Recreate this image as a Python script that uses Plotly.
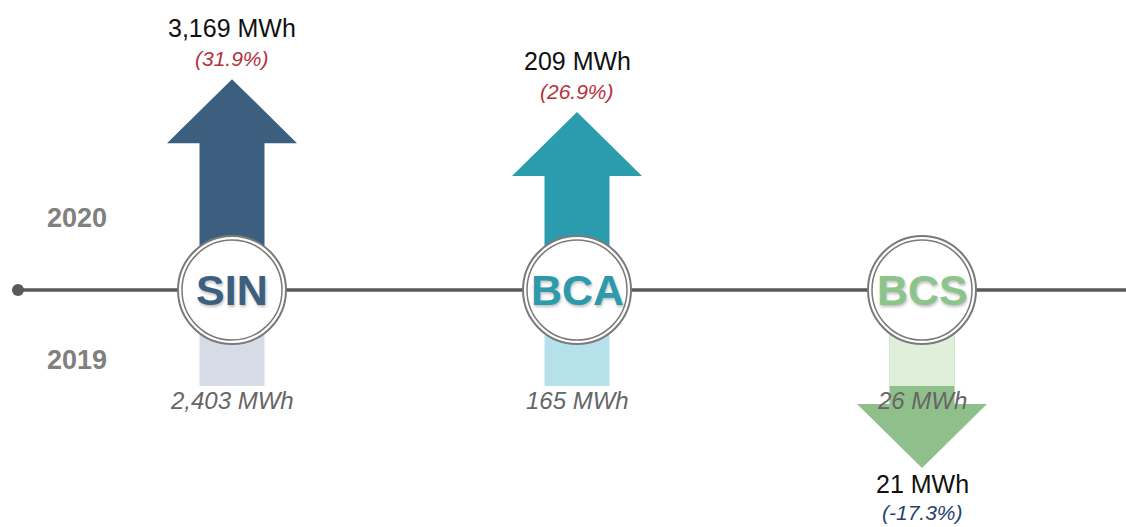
import plotly.graph_objects as go

# ---- data ----
regions = ["SIN", "BCA", "BCS"]
mwh_2019 = [2403, 165, 26]
mwh_2020 = [3169, 209, 21]
pct_change = [31.9, 26.9, -17.3]
year_labels = ["2020", "2019"]

# ---- styles ----
W, H = 1126, 527
dark_colors = ["#3c5f7f", "#2b9cad", "#8fc08c"]
light_colors = ["#d6dce5", "#b6e1ea", "#e0efd9"]
text_colors = ["#3c5f80", "#2b9bac", "#8cc48c"]
FONT = "Liberation Sans, Arial, sans-serif"
AXIS_Y = 290
X0, DX = 232, 345
R = 54
SHAFT_W, HEAD_W, HEAD_H = 65, 130, 64
K_LEN, MIN_LEN = 6.61, 178
BASE_LEN = 96

shapes = []
annotations = []

def fmt(v):
    return f"{v:,} MWh"

# timeline
shapes.append(dict(type="line", xref="x", yref="y", x0=18, x1=W, y0=AXIS_Y, y1=AXIS_Y,
                   line=dict(color="#595959", width=3.5), layer="below"))
shapes.append(dict(type="circle", xref="x", yref="y", x0=12, x1=24, y0=AXIS_Y - 6, y1=AXIS_Y + 6,
                   fillcolor="#595959", line=dict(width=0), layer="below"))

for i, reg in enumerate(regions):
    cx = X0 + i * DX
    up = pct_change[i] >= 0
    s = -1 if up else 1
    L = max(K_LEN * abs(pct_change[i]), MIN_LEN)
    tip = AXIS_Y + s * L
    hb = tip - s * HEAD_H
    hw, sw = HEAD_W / 2, SHAFT_W / 2
    path = (f"M {cx - sw},{AXIS_Y} L {cx - sw},{hb} L {cx - hw},{hb} L {cx},{tip} "
            f"L {cx + hw},{hb} L {cx + sw},{hb} L {cx + sw},{AXIS_Y} Z")
    shapes.append(dict(type="path", xref="x", yref="y", path=path,
                       fillcolor=dark_colors[i], line=dict(width=0), layer="above"))
    # 2019 base bar
    shapes.append(dict(type="rect", xref="x", yref="y", x0=cx - sw, x1=cx + sw,
                       y0=AXIS_Y, y1=AXIS_Y + BASE_LEN,
                       fillcolor=light_colors[i], line=dict(width=0), layer="above"))
    # circle (double ring)
    shapes.append(dict(type="circle", xref="x", yref="y", x0=cx - R, x1=cx + R,
                       y0=AXIS_Y - R, y1=AXIS_Y + R, fillcolor="white",
                       line=dict(color="#7a7a7a", width=2), layer="above"))
    shapes.append(dict(type="circle", xref="x", yref="y", x0=cx - R + 4, x1=cx + R - 4,
                       y0=AXIS_Y - R + 4, y1=AXIS_Y + R - 4, fillcolor="white",
                       line=dict(color="#7a7a7a", width=1.5), layer="above"))
    # circle text with soft shadow
    annotations.append(dict(x=cx, y=AXIS_Y, text=f"<b>{reg}</b>", showarrow=False,
                            font=dict(family=FONT, size=43, color=text_colors[i],
                                      shadow="1px 2px 3px rgba(0,0,0,0.25)")))
    # 2019 label
    annotations.append(dict(x=cx, y=AXIS_Y + BASE_LEN + 14, text=f"<i>{fmt(mwh_2019[i])}</i>",
                            showarrow=False, font=dict(family=FONT, size=24, color="#666666")))
    # 2020 labels
    pct_txt = f"<i>({pct_change[i]:.1f}%)</i>"
    if up:
        vy, py = tip - 51, tip - 21
        pcol = "#b5313d"
    else:
        vy, py = tip + 16, tip + 44
        pcol = "#2a3f6e"
    annotations.append(dict(x=cx, y=vy, text=fmt(mwh_2020[i]), showarrow=False,
                            font=dict(family=FONT, size=25, color="#111111")))
    annotations.append(dict(x=cx, y=py, text=pct_txt, showarrow=False,
                            font=dict(family=FONT, size=21, color=pcol)))

# year labels
annotations.append(dict(x=77, y=AXIS_Y - 72, text=f"<b>{year_labels[0]}</b>", showarrow=False,
                        font=dict(family=FONT, size=27, color="#808080")))
annotations.append(dict(x=77, y=AXIS_Y + 70, text=f"<b>{year_labels[1]}</b>", showarrow=False,
                        font=dict(family=FONT, size=27, color="#808080")))

fig = go.Figure()
fig.update_layout(
    width=W, height=H, margin=dict(l=0, r=0, t=0, b=0),
    paper_bgcolor="white", plot_bgcolor="white",
    xaxis=dict(range=[0, W], visible=False, fixedrange=True),
    yaxis=dict(range=[H, 0], visible=False, fixedrange=True),
    shapes=shapes, annotations=annotations, showlegend=False,
)
fig.write_html("out.html", config={"displayModeBar": False},
               post_script="document.body.style.margin='0';document.body.style.overflow='hidden';")
